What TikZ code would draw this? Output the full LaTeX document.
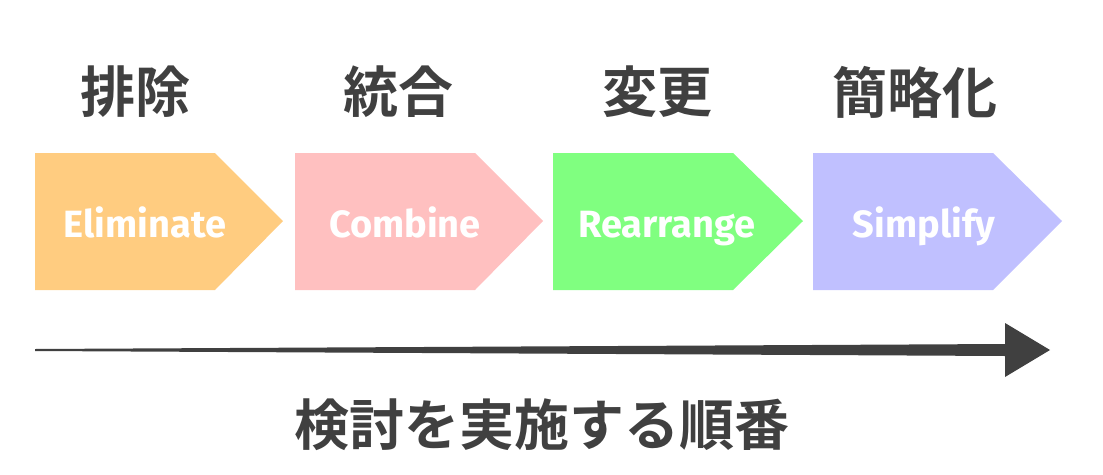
\documentclass[tikz,border=0pt]{standalone}
\usepackage{fontspec}
\newfontfamily\cjk{Noto Sans CJK JP}[BoldFont={* Bold}]
\newfontfamily\lat{Fira Sans}
\definecolor{c1}{HTML}{FFCC80}
\definecolor{c2}{HTML}{FFC0C0}
\definecolor{c3}{HTML}{80FF80}
\definecolor{c4}{HTML}{C0C0FF}
\definecolor{dk}{HTML}{404040}
\begin{document}
\begin{tikzpicture}[x=1pt,y=-1pt,
 title/.style={font=\cjk\bfseries\fontsize{55}{55}\selectfont,text=dk},
 lab/.style={font=\lat\bfseries\fontsize{38}{38}\selectfont,text=white,anchor=base}]
\useasboundingbox (0,0) rectangle (1103,474);
\newcommand\chev[3]{\fill[#3] (#1,153) -- (#1+180,153) -- (#1+#2,221) -- (#1+180,290) -- (#1,290) -- cycle;}
\chev{35}{248}{c1}
\chev{295}{248}{c2}
\chev{553}{250}{c3}
\chev{813}{249}{c4}
\node[lab] (e) at (145,237) {Eliminate};
\node[lab] (c) at (405,237) {Combine};
\node[lab] (r) at (667,237) {Rearrange};
\node[lab] (s) at (924,237) {Simplify};
\node[title] (t1) at (135,92) {排除};
\node[title] (t2) at (398,92) {統合};
\node[title] (t3) at (657,92) {変更};
\node[title] (t4) at (915,92) {簡略化};
\coordinate (a0) at (35,350);
\coordinate (a1) at (1050,350);
\fill[dk] (a0) ++(0,-1) -- (1005,344) -- (1005,323) -- (a1) -- (1005,377) -- (1005,356) -- (35,351) -- cycle;
\node[title] (b) at (542,425) {検討を実施する順番};
\end{tikzpicture}
\end{document}
